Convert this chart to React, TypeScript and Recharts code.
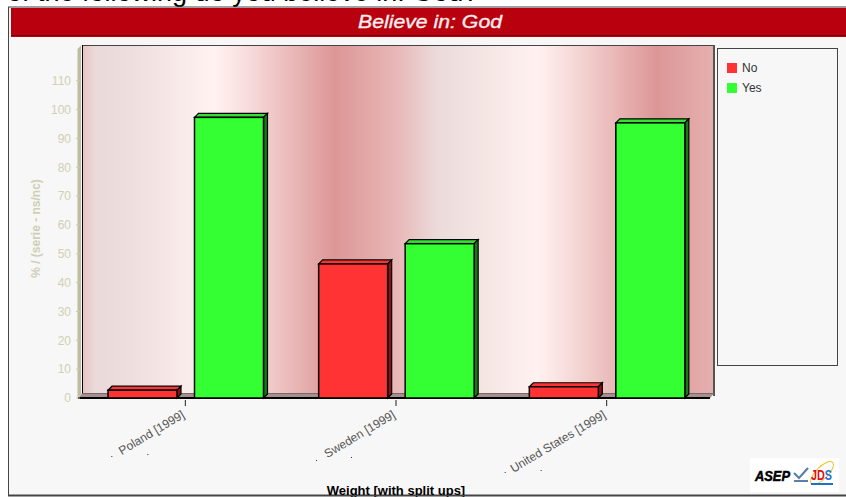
import { BarChart, Bar, XAxis, YAxis, Legend } from 'recharts'

const categories = ['Poland [1999]', 'Sweden [1999]', 'United States [1999]']
const noValues = [2.7, 46.5, 3.9]
const yesValues = [97.3, 53.5, 95.4]
const yTicks = [0, 10, 20, 30, 40, 50, 60, 70, 80, 90, 100, 110]

const chartData = categories.map((name, i) => ({
  name,
  No: noValues[i],
  Yes: yesValues[i],
}))

const FONT = '"Liberation Sans", Arial, sans-serif'
const DEPTH = 4

// the odd stray pixels the original has around each rotated label
const tickSpecks = [
  [[-74, 50], [-38, 48]],
  [[-80, 54], [-45, 51]],
  [[-102, 66], [-66, 64]],
]

const wallStops: [string, string][] = [
  ['0%', '#e8c4c4'],
  ['2%', '#ebd9d9'],
  ['5%', '#ebdbdb'],
  ['21%', '#fff2f0'],
  ['26%', '#f8dddd'],
  ['40%', '#dd9696'],
  ['50%', '#e8b8b8'],
  ['56%', '#ebdad9'],
  ['72%', '#fff2f0'],
  ['78%', '#f5d8d6'],
  ['91%', '#dd9696'],
  ['100%', '#e5b0b0'],
]

const makeBar = (fill: string, top: string, side: string) => (props: any) => {
  const { x, y, width, height } = props
  const right = x + width
  const bottom = y + height
  return (
    <g stroke="#000" strokeWidth={1.2} strokeLinejoin="miter">
      <polygon
        points={`${x},${y} ${x + DEPTH},${y - DEPTH} ${right + DEPTH},${y - DEPTH} ${right},${y}`}
        fill={top}
      />
      <polygon
        points={`${right},${y} ${right + DEPTH},${y - DEPTH} ${right + DEPTH},${bottom - DEPTH} ${right},${bottom}`}
        fill={side}
      />
      <rect x={x} y={y} width={width} height={height} fill={fill} strokeWidth={1.5} />
    </g>
  )
}

const CategoryTick = ({ x, y, payload, index }: any) => (
  <g>
    <line x1={x} y1={y - 6} x2={x} y2={y} stroke="#222" />
    <text
      x={x}
      y={y + 11}
      textAnchor="end"
      fontFamily={FONT}
      fontSize={12}
      fill="#555"
      transform={`rotate(-31 ${x} ${y + 11})`}
    >
      {payload.value}
    </text>
    {(tickSpecks[index] || []).map(([dx, dy], i) => (
      <rect key={i} x={x + dx} y={y + dy} width={1} height={1} fill="#333" />
    ))}
  </g>
)

const LegendBox = ({ payload }: any) => (
  <div style={{ paddingTop: 9, paddingLeft: 9 }}>
    {(payload || []).map((entry: any) => (
      <div
        key={entry.value}
        style={{ display: 'flex', alignItems: 'center', height: 20, fontFamily: FONT, fontSize: 12, color: '#333' }}
      >
        <span style={{ width: 10, height: 10, background: entry.color, marginRight: 5 }} />
        {entry.value}
      </div>
    ))}
  </div>
)

export default function App() {
  return (
    <div style={{ position: 'absolute', left: 0, top: 0, width: 846, height: 497, overflow: 'hidden', background: '#fff' }}>
      <div
        style={{
          position: 'absolute',
          left: 7,
          top: -24,
          fontFamily: FONT,
          fontSize: 27,
          lineHeight: '32px',
          color: '#000',
          whiteSpace: 'nowrap',
        }}
      >
        of the following do you believe in: God?
      </div>

      {/* frame, title bar and the 3d walls behind the bars */}
      <svg width={846} height={497} style={{ position: 'absolute', left: 0, top: 0 }}>
        <defs>
          <linearGradient id="wall" x1="0" y1="0" x2="1" y2="0">
            {wallStops.map(([offset, color]) => (
              <stop key={offset} offset={offset} stopColor={color} />
            ))}
          </linearGradient>
        </defs>
        <rect x={8.5} y={7} width={840} height={488} fill="#f7f7f7" stroke="#444" />
        <rect x={11} y={8} width={835} height={29} fill="#b8000f" />
        <rect x={11} y={35} width={835} height={1} fill="#7c0008" />
        <text
          x={430}
          y={28}
          textAnchor="middle"
          fontFamily={FONT}
          fontSize={19}
          fontStyle="italic"
          fill="#fbeeee"
          stroke="#fbeeee"
          strokeWidth={0.35}
          textLength={144}
          lengthAdjust="spacingAndGlyphs"
        >
          Believe in: God
        </text>
        <rect x={82.5} y={45.5} width={631} height={348} fill="url(#wall)" stroke="#444" />
        <line x1={82.5} y1={45} x2={82.5} y2={394} stroke="#000" />
        <line x1={714} y1={45} x2={714} y2={396} stroke="#555" strokeWidth={2} />
        <polygon points="78,398 82,393.5 714,393.5 710,398" fill="#a58e8e" />
        <polygon points="77.5,49 81,45.5 81,394 77.5,398" fill="#bdbd9d" />
        <rect x={78} y={397} width={632} height={2} fill="#000" />
      </svg>

      <div style={{ position: 'absolute', left: 0, top: 0 }}>
        <BarChart
          width={846}
          height={497}
          data={chartData}
          margin={{ top: 49, right: 134, bottom: 2, left: 30 }}
          barSize={69}
          barGap={17.5}
        >
          <XAxis
            dataKey="name"
            interval={0}
            height={97}
            tickLine={false}
            axisLine={false}
            tick={<CategoryTick />}
            label={{
              value: 'Weight [with split ups]',
              position: 'insideBottom',
              offset: 0,
              style: { fontFamily: FONT, fontSize: 13, fontWeight: 700, fill: '#000' },
            }}
          />
          <YAxis
            width={50}
            domain={[0, 121]}
            ticks={yTicks}
            interval={0}
            axisLine={false}
            tickSize={4}
            tickMargin={5}
            tickLine={{ stroke: '#c8c8a8' }}
            tick={{ fontFamily: FONT, fontSize: 12, fill: '#d0d0b2' }}
            label={{
              value: '% / (serie - ns/nc)',
              angle: -90,
              position: 'insideLeft',
              offset: 6,
              dy: 5,
              style: { fontFamily: FONT, fontSize: 12, fontWeight: 700, fill: '#cfcfb4', textAnchor: 'middle' },
            }}
          />
          <Legend
            layout="horizontal"
            verticalAlign="middle"
            align="center"
            content={<LegendBox />}
            wrapperStyle={{
              left: 717,
              top: 48,
              width: 121,
              height: 318,
              boxSizing: 'border-box',
              border: '1.5px solid #444',
            }}
          />
          <Bar dataKey="No" fill="#ff3333" isAnimationActive={false} shape={makeBar('#ff3333', '#ff3333', '#8a1414')} />
          <Bar dataKey="Yes" fill="#33ff33" isAnimationActive={false} shape={makeBar('#33ff33', '#33e033', '#157a15')} />
        </BarChart>
      </div>

      {/* logo and the bottom edge sit on top of the axis title */}
      <svg width={846} height={497} style={{ position: 'absolute', left: 0, top: 0 }}>
        <rect x={750} y={458} width={89} height={34} fill="#fff" />
        <text x={755} y={481} fontFamily={FONT} fontSize={14} fontStyle="italic" fontWeight={700} fill="#000" stroke="#000" strokeWidth={0.5} textLength={35} lengthAdjust="spacingAndGlyphs">
          ASEP
        </text>
        <path d="M794 473 l5 5 l9 -10 M794 481 h14" fill="none" stroke="#5b7fa6" strokeWidth={2.2} />
        <ellipse cx={822} cy={473} rx={15} ry={6} fill="none" stroke="#f0c020" strokeWidth={1} transform="rotate(-45 822 473)" />
        <text x={811} y={480} fontFamily={FONT} fontSize={14} fontWeight={700} fill="#e01010" textLength={21} lengthAdjust="spacingAndGlyphs">
          JD<tspan fill="#1d6fd0">S</tspan>
        </text>
        <path d="M811 484 h22" stroke="#1d6fd0" strokeWidth={2} />
        <rect x={8} y={495} width={838} height={1.5} fill="#444" />
      </svg>
    </div>
  )
}
